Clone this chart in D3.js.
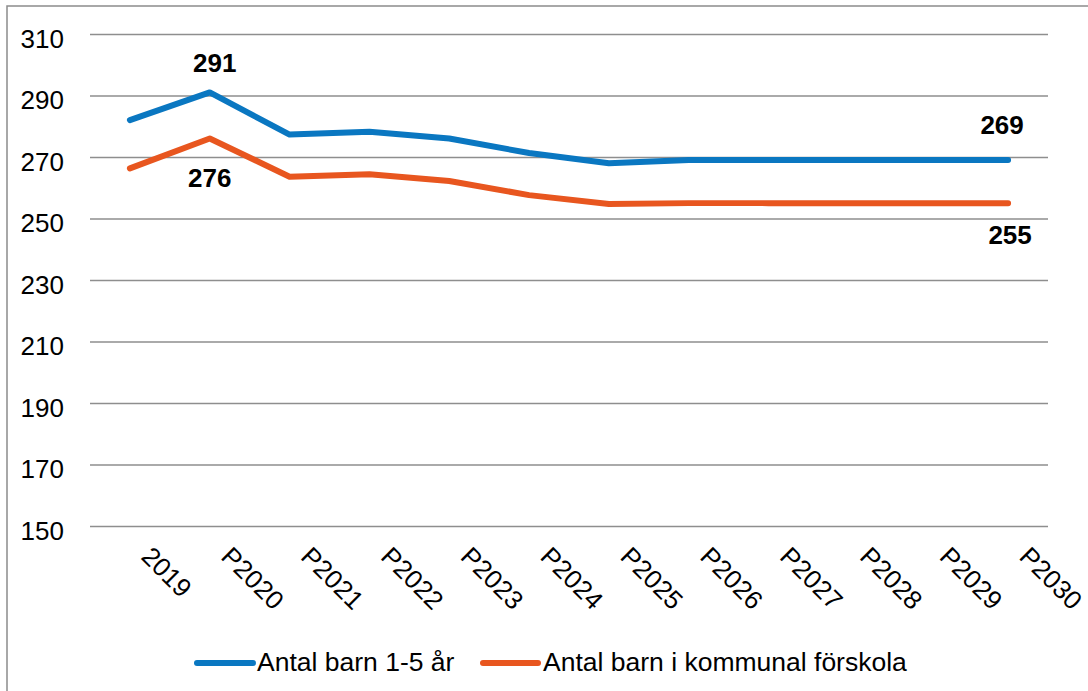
<!DOCTYPE html>
<html>
<head>
<meta charset="utf-8">
<script src="https://cdn.jsdelivr.net/npm/d3@7"></script>
<style>
  html, body { margin: 0; padding: 0; background: #ffffff; }
  svg { display: block; }
  text { font-family: "Liberation Sans", Arial, sans-serif; fill: #000; }
</style>
</head>
<body>
<svg id="chart" width="1088" height="691"></svg>
<script>
// ---- data ----
const categories = ["2019", "P2020", "P2021", "P2022", "P2023", "P2024", "P2025", "P2026", "P2027", "P2028", "P2029", "P2030"];
const seriesNames = ["Antal barn 1-5 år", "Antal barn i kommunal förskola"];
const barn15 = [282, 291, 277.3, 278.2, 276, 271.3, 268, 269, 269, 269, 269, 269];
const kommunalForskola = [266.3, 276, 263.6, 264.4, 262.2, 257.6, 254.7, 255, 255, 255, 255, 255];
const yTicks = [150, 170, 190, 210, 230, 250, 270, 290, 310];
// data labels: [series index, category index, text]
const dataLabels = [[0, 1, "291"], [1, 1, "276"], [0, 11, "269"], [1, 11, "255"]];

(function () {
const colors = ["#0a77c1", "#e8561f"];
const svg = d3.select("#chart");

// frame
svg.append("rect").attr("x", 7).attr("y", 6).attr("width", 1100).attr("height", 700)
  .attr("fill", "none").attr("stroke", "#8c8c8c").attr("stroke-width", 1.5);

const pLeft = 90, pRight = 1048, pTop = 34, pBottom = 526;
const x = d3.scaleBand().domain(categories).range([pLeft, pRight]);
const y = d3.scaleLinear().domain([150, 310]).range([pBottom, pTop]);
const cx = c => x(c) + x.bandwidth() / 2;

// y axis + gridlines
const yAxis = svg.append("g").attr("transform", `translate(${pLeft},0)`)
  .call(d3.axisLeft(y).tickValues(yTicks).tickSizeInner(-(pRight - pLeft)).tickSizeOuter(0).tickPadding(26).tickFormat(d3.format("d")));
yAxis.select(".domain").remove();
yAxis.selectAll(".tick line").attr("stroke", "#8e8e8e").attr("stroke-width", 1.6);
yAxis.selectAll(".tick text").attr("dy", "0.5em").style("font-size", "26px")
  .style("font-family", "'Liberation Sans', Arial, sans-serif").attr("fill", "#000");

// x axis labels
const xAxis = svg.append("g").attr("transform", `translate(0,${pBottom})`)
  .call(d3.axisBottom(x).tickSize(0));
xAxis.select(".domain").remove();
xAxis.selectAll(".tick text")
  .attr("y", 0).attr("dy", 0)
  .attr("transform", "translate(10,32) rotate(45)")
  .attr("text-anchor", "start")
  .style("font-size", "26px")
  .style("font-family", "'Liberation Sans', Arial, sans-serif")
  .attr("fill", "#000");

// lines
const series = [barn15, kommunalForskola];
const line = d3.line().x((d, i) => cx(categories[i])).y(d => y(d));
series.forEach((vals, si) => {
  svg.append("path").datum(vals)
    .attr("d", line)
    .attr("fill", "none")
    .attr("stroke", colors[si])
    .attr("stroke-width", 6)
    .attr("stroke-linejoin", "round")
    .attr("stroke-linecap", "round");
});

// data labels
const labelOffsets = { "0-1": [5, -20], "1-1": [0, 48], "0-11": [-6, -26], "1-11": [2, 41] };
dataLabels.forEach(([si, ci, t]) => {
  const off = labelOffsets[si + "-" + ci];
  svg.append("text")
    .attr("x", cx(categories[ci]) + off[0])
    .attr("y", y(series[si][ci]) + off[1])
    .attr("text-anchor", "middle")
    .style("font-size", "26px")
    .style("font-weight", "bold")
    .text(t);
});

// legend
const legendItems = [
  { name: seriesNames[0], color: colors[0], x0: 197, x1: 253, tx: 257 },
  { name: seriesNames[1], color: colors[1], x0: 483, x1: 538, tx: 543 }
];
legendItems.forEach(it => {
  svg.append("line").attr("x1", it.x0).attr("x2", it.x1).attr("y1", 663).attr("y2", 663)
    .attr("stroke", it.color).attr("stroke-width", 6).attr("stroke-linecap", "round");
  svg.append("text").attr("x", it.tx).attr("y", 671).style("font-size", "26.5px").text(it.name);
});
})();
</script>
</body>
</html>
